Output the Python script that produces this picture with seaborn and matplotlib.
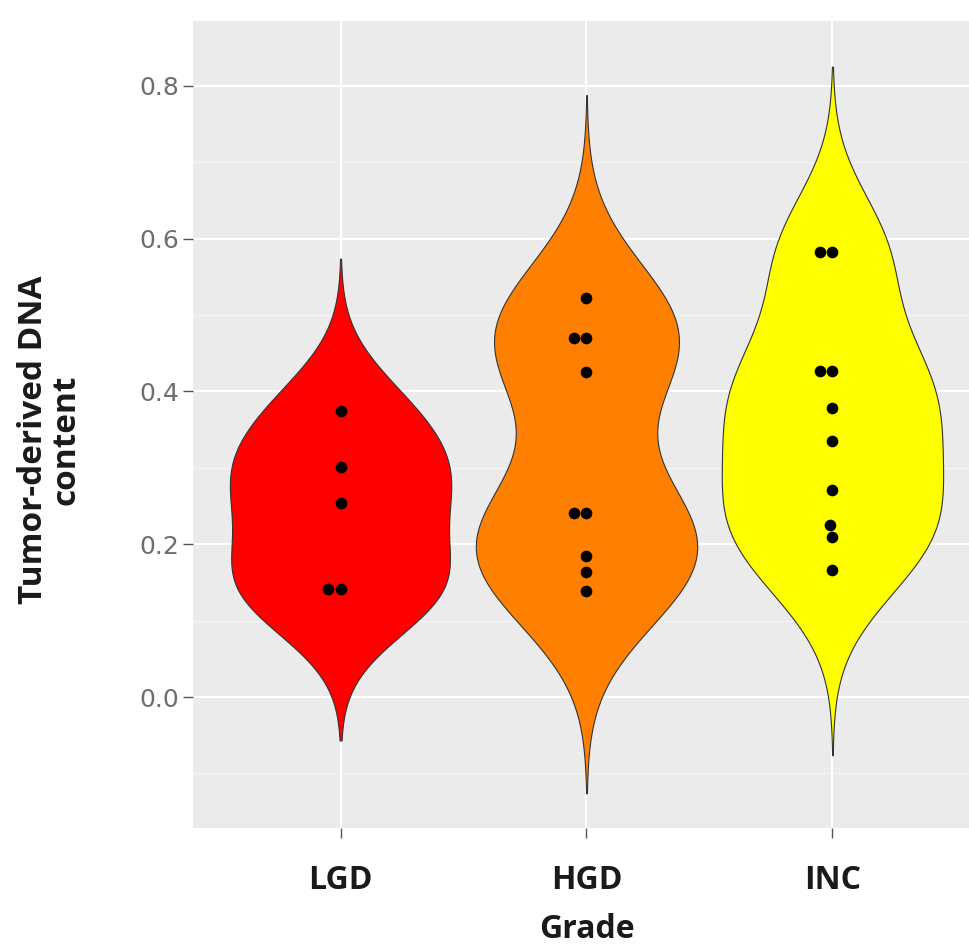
import numpy as np
import pandas as pd
import matplotlib
matplotlib.use("Agg")
import matplotlib.pyplot as plt
from matplotlib.ticker import MultipleLocator
import seaborn as sns

# Tumor-derived DNA content per dysplasia grade
grades = ["LGD", "HGD", "INC"]
lgd_values = [0.375, 0.301, 0.254, 0.142, 0.142]
hgd_values = [0.523, 0.470, 0.470, 0.425, 0.241, 0.241, 0.184, 0.163, 0.139]
inc_values = [0.583, 0.583, 0.427, 0.427, 0.379, 0.335, 0.271, 0.225, 0.210, 0.166]
grade_colors = ["#FF0000", "#FF8000", "#FFFF00"]

df = pd.DataFrame({
    "Grade": ["LGD"] * len(lgd_values) + ["HGD"] * len(hgd_values) + ["INC"] * len(inc_values),
    "content": lgd_values + hgd_values + inc_values,
})


def nrd0_factor(kde):
    """Silverman's rule of thumb (R's bw.nrd0) expressed as a scipy kde factor."""
    x = np.asarray(kde.dataset).ravel()
    sd = np.std(x, ddof=1)
    q75, q25 = np.percentile(x, [75, 25])
    lo = min(sd, (q75 - q25) / 1.34)
    if lo <= 0:
        lo = sd
    bw = 0.9 * lo * len(x) ** (-0.2)
    return bw / sd


sns.set_theme(style="darkgrid", rc={
    "axes.facecolor": "#EBEBEB",
    "grid.color": "white",
    "figure.facecolor": "white",
})

fig = plt.figure(figsize=(9.70, 9.49), dpi=100)
ax = fig.add_axes([193 / 970, 121 / 949, (980 - 193) / 970, 807 / 949])
ax.set_xlim(-0.6, 2.6)
ax.set_ylim(-0.1715, 0.885)

sns.violinplot(
    data=df, x="Grade", y="content", hue="Grade", order=grades, hue_order=grades,
    palette=grade_colors, saturation=1, legend=False, inner=None,
    bw_method=nrd0_factor, cut=3, gridsize=512, density_norm="area",
    width=0.9, linewidth=0.8, linecolor="#333333", ax=ax,
)
sns.swarmplot(
    data=df, x="Grade", y="content", order=grades, color="black",
    size=8.4, linewidth=0, ax=ax, zorder=5,
)

ax.set_xlim(-0.6, 2.6)
ax.set_ylim(-0.1715, 0.885)
ax.set_axisbelow(True)

ax.yaxis.set_major_locator(MultipleLocator(0.2))
ax.yaxis.set_minor_locator(MultipleLocator(0.1))
ax.yaxis.set_major_formatter(matplotlib.ticker.FormatStrFormatter("%.1f"))
ax.grid(True, which="major", axis="both", color="white", linewidth=1.5)
ax.grid(True, which="minor", axis="y", color="#F4F4F4", linewidth=0.8)
for s in ax.spines.values():
    s.set_visible(False)

ax.tick_params(axis="both", which="major", length=7, width=1, color="#555555",
               bottom=True, left=True)
ax.tick_params(axis="y", which="minor", length=0)
ax.tick_params(axis="y", labelsize=18, labelcolor="#6e6e6e", pad=3)
ax.tick_params(axis="x", pad=19)
for lab in ax.get_yticklabels():
    lab.set_fontfamily("DejaVu Sans")
for lab in ax.get_xticklabels():
    lab.set_fontfamily("Open Sans")
    lab.set_fontweight("bold")
    lab.set_fontsize(23)
    lab.set_color("#1a1a1a")

ax.set_xlabel("Grade", fontfamily="Open Sans", fontweight="bold", fontsize=23,
              color="#1a1a1a", va="top")
ax.xaxis.set_label_coords(0.5, -0.105)
ax.set_ylabel("Tumor-derived DNA\ncontent", fontfamily="Open Sans", fontweight="bold",
              fontsize=24, color="#1a1a1a", va="center", ha="center", linespacing=1.0)
ax.yaxis.set_label_coords(-0.182, 0.481)

fig.savefig("out.png", dpi=100)
